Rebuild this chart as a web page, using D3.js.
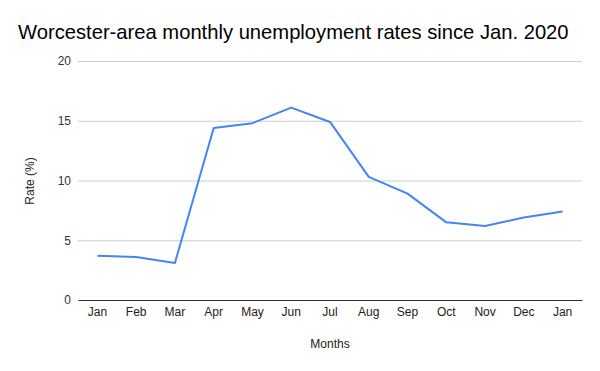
<!DOCTYPE html>
<html>
<head>
<meta charset="utf-8">
<script src="https://cdn.jsdelivr.net/npm/d3@7"></script>
<style>
  body { margin: 0; background: #fff; }
  text { font-family: "Liberation Sans", Arial, sans-serif; }
</style>
</head>
<body>
<svg id="chart" width="600" height="371"></svg>
<script>
var months = ["Jan", "Feb", "Mar", "Apr", "May", "Jun", "Jul", "Aug", "Sep", "Oct", "Nov", "Dec", "Jan"];
var rates = [3.7, 3.6, 3.1, 14.4, 14.8, 16.1, 14.9, 10.3, 8.9, 6.5, 6.2, 6.9, 7.4];
var yTicks = [0, 5, 10, 15, 20];

const svg = d3.select("#chart");
const plotLeft = 78, plotRight = 582, plotTop = 61, plotBottom = 300;

// index based band so the two "Jan" labels stay apart
const x = d3.scaleBand()
  .domain(months.map((m, i) => i))
  .range([plotLeft, plotRight]);
const y = d3.scaleLinear()
  .domain([0, 20])
  .range([plotBottom, plotTop]);

svg.append("rect").attr("width", 600).attr("height", 371).attr("fill", "#fff");

svg.append("text")
  .attr("x", 18)
  .attr("y", 39)
  .attr("font-size", 20.2)
  .attr("fill", "#000")
  .text("Worcester-area monthly unemployment rates since Jan. 2020");

// grid + y labels
const yAxis = svg.append("g")
  .attr("transform", `translate(${plotLeft},0)`)
  .call(d3.axisLeft(y).tickValues(yTicks).tickSize(-(plotRight - plotLeft)).tickPadding(7));
yAxis.select(".domain").remove();
yAxis.selectAll(".tick line").attr("stroke", "#ccc");
yAxis.selectAll(".tick text").attr("font-size", 12).attr("fill", "#333")
  .attr("font-family", "Liberation Sans, Arial, sans-serif");

// x axis
const xAxis = svg.append("g")
  .attr("transform", `translate(0,${plotBottom})`)
  .call(d3.axisBottom(x).tickFormat(i => months[i]).tickSize(0).tickPadding(7));
xAxis.select(".domain").attr("stroke", "#333");
xAxis.selectAll(".tick text").attr("font-size", 12).attr("fill", "#222")
  .attr("font-family", "Liberation Sans, Arial, sans-serif");

const line = d3.line()
  .x((d, i) => x(i) + x.bandwidth() / 2)
  .y(d => y(d));

svg.append("path")
  .datum(rates)
  .attr("fill", "none")
  .attr("stroke", "#4285f4")
  .attr("stroke-width", 2)
  .attr("stroke-linejoin", "round")
  .attr("d", line);

svg.append("text")
  .attr("x", 330)
  .attr("y", 348)
  .attr("text-anchor", "middle")
  .attr("font-size", 12)
  .attr("fill", "#222")
  .text("Months");

svg.append("text")
  .attr("transform", "translate(34,181) rotate(-90)")
  .attr("text-anchor", "middle")
  .attr("font-size", 12)
  .attr("fill", "#222")
  .text("Rate (%)");
</script>
</body>
</html>
